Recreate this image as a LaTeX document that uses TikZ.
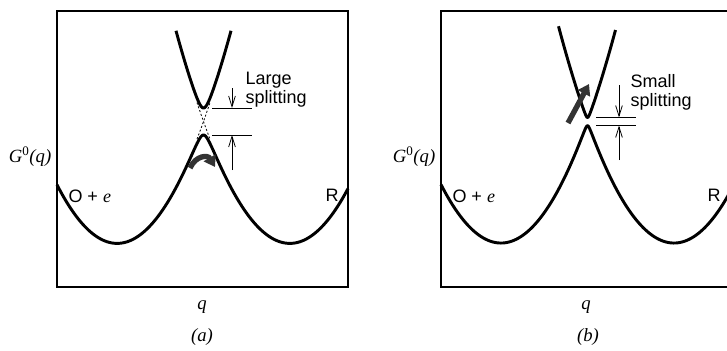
\documentclass[tikz,border=0pt]{standalone}
\usepackage{fontspec}
\setmainfont{Liberation Serif}
\setsansfont{Liberation Sans}
\usetikzlibrary{arrows.meta}

\tikzset{every picture/.style={line width=0.75pt}}

\begin{document}
\begin{tikzpicture}[
            x=0.75pt,
            y=0.75pt,
            yscale=-1,
            xscale=1,
            box/.style={line width=1.5pt},
            curve/.style={line width=2.2pt, line join=round},
            level/.style={line width=0.6pt},
            diabat/.style={line width=0.6pt, dash pattern={on 1.5pt off 1.5pt}},
            split/.style={line width=0.6pt, -{Straight Barb[length=8pt,width=5pt]}},
            fat/.style={line width=4pt, draw=black!80, -{Triangle[length=8pt,width=10pt]}},
            sflab/.style={font=\fontsize{13.5}{14}\sffamily, inner sep=0pt, align=left},
            rmlab/.style={font=\fontsize{14}{16}\selectfont\itshape, inner sep=0pt},
            declare function={
                ga(\x)=1.624*((\x-117)/100)*((\x-117)/100);
                gb(\x)=1.624*((\x-290)/100)*((\x-290)/100);
                lo(\x,\w)=243-100*((ga(\x)+gb(\x))/2-sqrt(((ga(\x)-gb(\x))/2)*((ga(\x)-gb(\x))/2)+\w*\w));
                up(\x,\w)=243-100*((ga(\x)+gb(\x))/2+sqrt(((ga(\x)-gb(\x))/2)*((ga(\x)-gb(\x))/2)+\w*\w));
            }
        ]
            \useasboundingbox (0,0) rectangle (727,350);

            % (a) large splitting
            \draw[box] (57,11) rectangle (348,287);
            \draw[curve] plot[domain=57:348, samples=240, smooth] (\x,{lo(\x,0.135)});
            \draw[curve] plot[domain=176:231, samples=100, smooth] (\x,{up(\x,0.135)});
            \draw[diabat] plot[domain=197:210, samples=10] (\x,{243-100*ga(\x)});
            \draw[diabat] plot[domain=197:210, samples=10] (\x,{243-100*gb(\x)});
            \coordinate (lvla1) at (212,108);
            \coordinate (lvla2) at (252,108);
            \coordinate (lvla3) at (212,135);
            \coordinate (lvla4) at (252,135);
            \draw[level] (lvla1) -- (lvla2);
            \draw[level] (lvla3) -- (lvla4);
            \coordinate (dna) at (232,88);
            \coordinate (upa) at (232,170);
            \draw[split] (dna) -- (232,108);
            \draw[split] (upa) -- (232,135);
            \coordinate (tuna1) at (190,168);
            \coordinate (tuna2) at (215,167);
            \draw[fat] (tuna1) .. controls (196,155) and (208,155) .. (tuna2);
            \node[sflab, anchor=north west] (spla) at (245,72) {Large\\splitting};
            \node[rmlab] (Ga) at (30,157) {G\textsuperscript{\upshape 0}(q)};
            \node[sflab, anchor=west] (Oa) at (68,196) {O + {\rmfamily\itshape e}};
            \node[sflab] (Ra) at (332,195) {R};
            \node[rmlab] (qa) at (202,307) {q};
            \node[rmlab] (laba) at (202,337) {(a)};

            % (b) small splitting
            \begin{scope}[shift={(384,0)}]
            \draw[box] (57,11) rectangle (348,287);
            \draw[curve] plot[domain=57:348, samples=240, smooth] (\x,{lo(\x,0.04)});
            \draw[curve] plot[domain=174.5:231.5, samples=100, smooth] (\x,{up(\x,0.04)});
            \coordinate (lvlb1) at (212,117.5);
            \coordinate (lvlb2) at (252,117.5);
            \coordinate (lvlb3) at (212,125.5);
            \coordinate (lvlb4) at (252,125.5);
            \draw[level] (lvlb1) -- (lvlb2);
            \draw[level] (lvlb3) -- (lvlb4);
            \coordinate (dnb) at (235,85);
            \coordinate (upb) at (235,160);
            \draw[split] (dnb) -- (235,117.5);
            \draw[split] (upb) -- (235,125.5);
            \coordinate (jmpb1) at (184,123);
            \coordinate (jmpb2) at (205,84);
            \draw[fat] (jmpb1) -- (jmpb2);
            \node[sflab, anchor=north west] (splb) at (246,74) {Small\\splitting};
            \node[rmlab] (Gb) at (30,157) {G\textsuperscript{\upshape 0}(q)};
            \node[sflab, anchor=west] (Ob) at (68,196) {O + {\rmfamily\itshape e}};
            \node[sflab] (Rb) at (330,195) {R};
            \node[rmlab] (qb) at (202,307) {q};
            \node[rmlab] (labb) at (204,337) {(b)};
            \end{scope}
        \end{tikzpicture}
\end{document}
